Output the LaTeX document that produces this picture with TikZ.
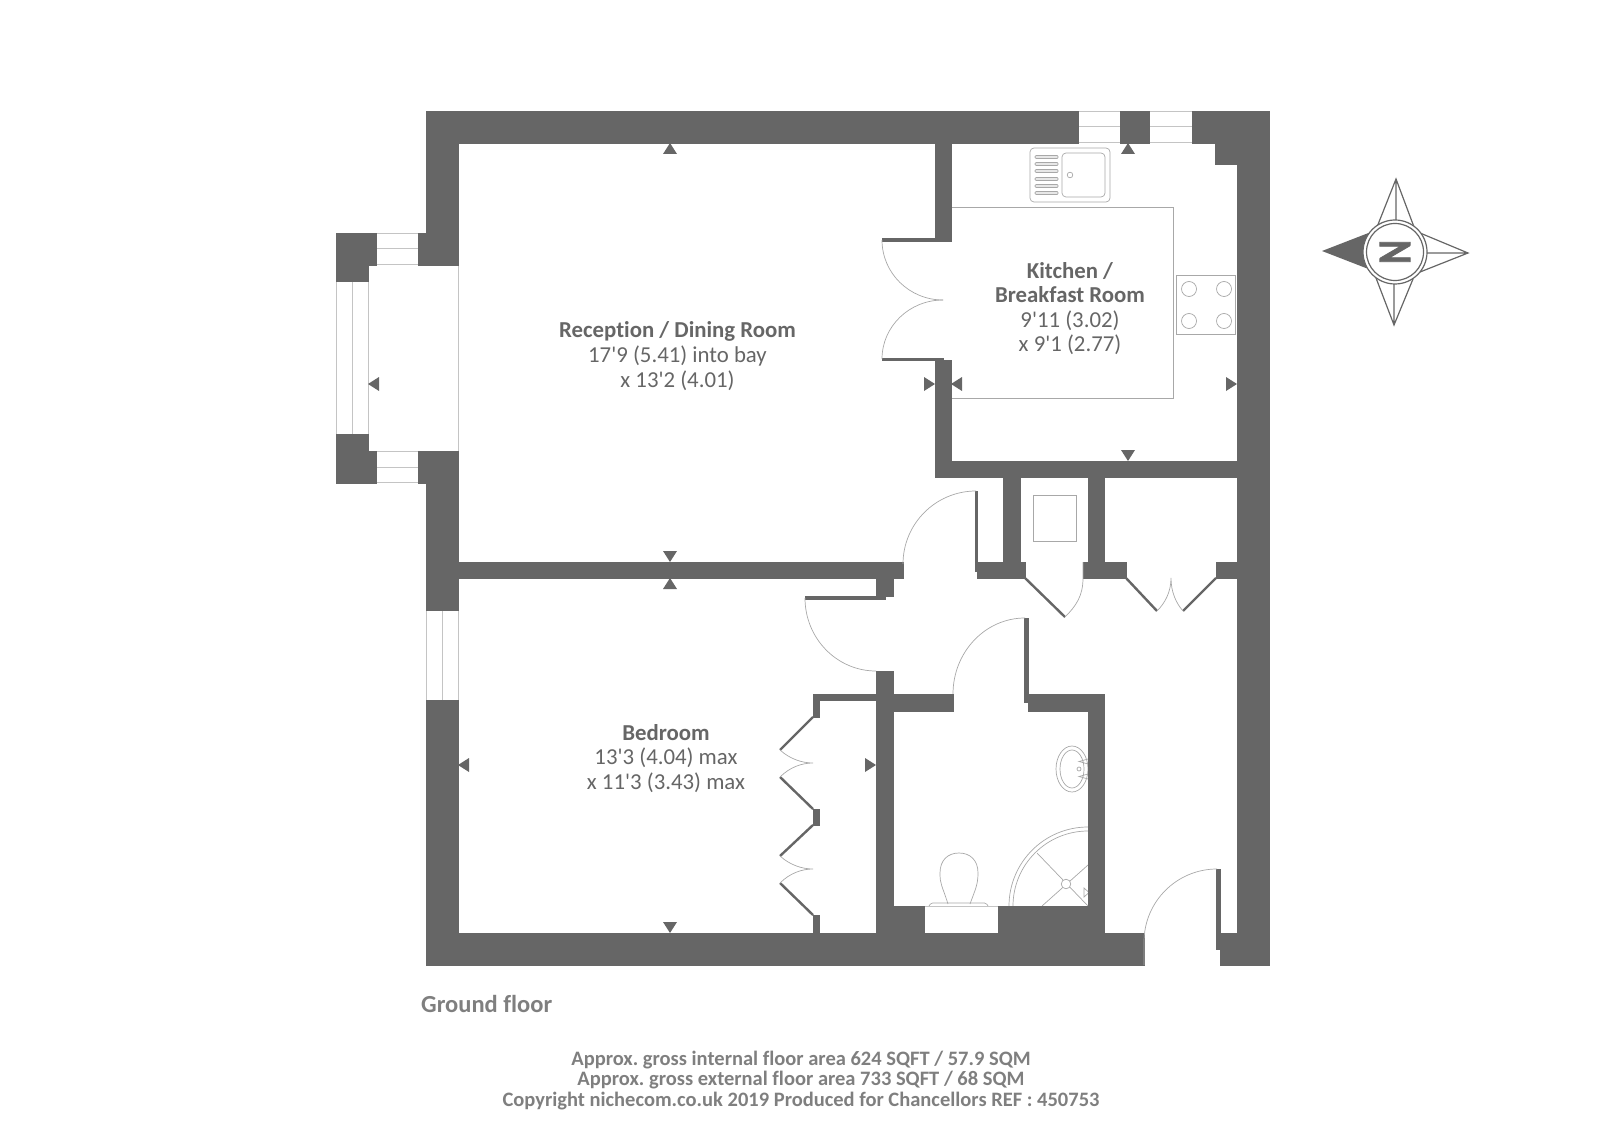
\documentclass[tikz,border=0pt]{standalone}
\usepackage{fontspec}
\setmainfont{Carlito}[Ligatures={TeXOff,NoCommon}]
\definecolor{wallgrey}{HTML}{666666}
\definecolor{linegrey}{HTML}{C4C4C4}
\definecolor{arcgrey}{HTML}{A8A8A8}
\definecolor{footgrey}{HTML}{7F7F7F}
\tikzset{
wall/.style={fill=wallgrey,draw=wallgrey,line width=0.1pt},
leaf/.style={draw=wallgrey,line width=2.4pt},
fitting/.style={draw=arcgrey,line width=0.7pt},
glass/.style={draw=linegrey,line width=1pt},
roomlabel/.style={text=wallgrey,align=center,font=\fontsize{22.8}{24.6}\selectfont},
footlabel/.style={text=footgrey,align=center,font=\fontsize{20.5}{20.6}\selectfont\bfseries\frenchspacing}}
% quarter arc: start, end, centre
\newcommand{\qarc}[6]{(#1,#2) .. controls ({#1+.5523*(#3-#5)},{#2+.5523*(#4-#6)}) and ({#3+.5523*(#1-#5)},{#4+.5523*(#2-#6)}) .. (#3,#4)}
\begin{document}
\begin{tikzpicture}[x=1pt,y=-1pt]
\useasboundingbox (0,0) rectangle (1600,1131);
% windows and openings
\draw[glass] (1078,111.5) rectangle (1120,143) (1078,127) -- (1120,127);
\draw[glass] (1149,111.5) rectangle (1192,143) (1149,127) -- (1192,127);
\draw[glass] (376,233.5) rectangle (418,265) (376,249) -- (418,249);
\draw[glass] (376,451) rectangle (418,482.5) (376,467) -- (418,467);
\draw[glass] (336.5,281) rectangle (368,434) (352,281) -- (352,434);
\draw[glass] (426.5,610) rectangle (458,700) (442,610) -- (442,700);
\draw[glass] (368,265) rectangle (458,451);
% kitchen fittings
\draw[fitting] (951,207) -- (1173,207) -- (1173,398) -- (951,398);
\draw[fitting,rounded corners=4pt] (1030,148) rectangle (1110,202);
\draw[fitting,rounded corners=4pt] (1062,153) rectangle (1105,197);
\draw[fitting] (1070,175) circle (2.8pt);
\foreach \y in {157,164,171,179,186,193}
  \draw[fitting,fill=linegrey!40,rounded corners=1pt] (1035,\y-1.5) rectangle (1058,\y+1.5);
\draw[fitting] (1176,275) rectangle (1235,334);
\foreach \x in {1189,1224} \foreach \y in {289,321}
  \draw[fitting] (\x,\y) circle (7.5pt);
\draw[fitting] (1033,495) rectangle (1076,541);
% bathroom fittings
\draw[fitting] (1072,769) ellipse (16pt and 23pt);
\draw[fitting] (1072,769) ellipse (12pt and 19pt);
\draw[fitting] (1079,769) circle (2pt);
\draw[fitting] (1088,759) -- (1079,761.5) -- (1088,764);
\draw[fitting] (1088,774) -- (1079,776.5) -- (1088,779);
\draw[fitting] \qarc{1009}{906}{1088}{827}{1088}{906};
\draw[fitting] \qarc{1013}{906}{1088}{831}{1088}{906};
\draw[fitting] (1037,853) -- (1088,906);
\draw[fitting] (1042,906) -- (1088,865);
\draw[fitting,fill=white] (1066,884) circle (4.8pt);
\draw[fitting] (1084,888) -- (1084,897) -- (1089,892.5) -- cycle;
\draw[fitting] (948,904) .. controls (942,885) and (940,885) .. (940,873) .. controls (940,860) and (948,853) .. (959,853) .. controls (970,853) and (978,860) .. (978,873) .. controls (978,885) and (975,890) .. (970,904);
\draw[fitting,rounded corners=1.5pt] (929,906) -- (931,903) -- (986,903) -- (988,906);
\draw[glass] (924,906) rectangle (998,933);
% walls
\foreach \xa/\ya/\xb/\yb in {426/111/1078/143,1120/111/1149/143,1192/111/1269/143,1215/143/1237/164,
  1237/111/1269/965,426/143/458/265,418/233/426/265,426/451/458/610,418/451/426/483,426/700/458/965,
  336/233/376/265,336/265/368/281,336/434/368/451,336/451/376/483,
  458/562/903/578,935/143/951/238,943/238/951/241,882/238.5/943/241,882/358/943/360.5,935/360/951/477,
  951/461/1237/477,1003/477/1020/562,1088/477/1104/562,977/562/1025/578,1083/562/1126/578,1216/562/1237/578,
  975/491/977/571,876/578/893/596,805/596.5/885/599,876/671/893/933,813/694/876/700,813/700/819/717,
  813/809/819/825,813/915/819/933,893/694/953/711,1028/694/1104/711,1088/711/1104/933,1024.5/618/1028/702,
  426/933/1144/965,876/906/924/933,998/906/1088/933,1216/869/1220/949,1220/933/1237/965}
  \fill[wall] (\xa,\ya) rectangle (\xb,\yb);
% door and wardrobe leaves
\draw[leaf] (1025,578) -- (1065,617);
\draw[leaf] (1126,578) -- (1157,611);
\draw[leaf] (1216,578) -- (1183,611);
\draw[leaf] (813,717) -- (780,750);
\draw[leaf] (780,777) -- (813,809);
\draw[leaf] (813,825) -- (780,856);
\draw[leaf] (780,883) -- (813,915);
% door swings
\draw[fitting] \qarc{882}{240}{943}{300}{943}{240};
\draw[fitting] \qarc{882}{359}{943}{300}{943}{359};
\draw[fitting] \qarc{976}{491}{903}{564}{976}{564};
\draw[fitting] \qarc{805}{598}{876}{671}{876}{598};
\draw[fitting] \qarc{1025}{618}{953}{694}{1025}{694};
\draw[fitting] \qarc{1217}{869}{1144}{942}{1217}{942} -- (1144,965);
\draw[fitting] (1065,617) .. controls (1076,606) and (1083,596) .. (1083,578) -- (1083,562);
\draw[fitting] (1157,611) .. controls (1165,603) and (1171,592) .. (1171,578) .. controls (1171,592) and (1176,603) .. (1183,611);
\draw[fitting] (780,750) .. controls (790,759) and (802,763) .. (813,763) .. controls (802,763) and (790,767) .. (780,777);
\draw[fitting] (780,856) .. controls (790,865) and (802,869) .. (813,869) .. controls (802,869) and (790,873) .. (780,883);
% dimension marks
\foreach \x/\y/\dx/\dy in {670/143/0/1,670/562/0/-1,670/578/0/1,670/933/0/-1,368/384/1/0,935/384/-1/0,
  951/384/1/0,1237/384/-1/0,1128/143/0/1,1128/461/0/-1,458/765/1/0,876/765/-1/0}
  \fill[wallgrey] (\x,\y) -- ({\x+11*\dx-7*\dy},{\y+11*\dy-7*\dx}) -- ({\x+11*\dx+7*\dy},{\y+11*\dy+7*\dx}) -- cycle;
% compass
\fill[wallgrey] (1322,251) -- (1371,232) -- (1371,270) -- cycle;
\draw[wallgrey,line width=1.2pt] (1377,227) -- (1396,179) -- (1414,227) (1396,179) -- (1396,222);
\draw[wallgrey,line width=1.2pt] (1420,233) -- (1468,253) -- (1420,272) (1468,253) -- (1426,253);
\draw[wallgrey,line width=1.2pt] (1376,278) -- (1394,325) -- (1413,279) (1394,325) -- (1394,284);
\draw[wallgrey,line width=1.2pt,fill=white] (1395,252) circle (32pt);
\draw[wallgrey,line width=1.2pt] (1395,252) circle (28.5pt);
\node[text=wallgrey,font=\fontsize{36}{36}\selectfont\bfseries\addfontfeatures{FakeBold=2},transform shape,rotate=90,yscale=1.3] (north) at (1395,252) {N};
% labels
\node[roomlabel] (reception) at (677.5,356) {\textbf{Reception / Dining Room}\\17'9 (5.41) into bay\\x 13'2 (4.01)};
\node[roomlabel] (kitchen) at (1070,308.5) {\textbf{Kitchen /}\\\textbf{Breakfast Room}\\9'11 (3.02)\\x 9'1 (2.77)};
\node[roomlabel] (bedroom) at (666,758.5) {\textbf{Bedroom}\\13'3 (4.04) max\\x 11'3 (3.43) max};
\node[text=footgrey,anchor=west,inner sep=0pt,font=\fontsize{24.5}{26}\selectfont\bfseries] (floor) at (421,1004) {Ground floor};
\node[footlabel] (areas) at (801,1080.5) {Approx. gross internal floor area 624 SQFT / 57.9 SQM\\Approx. gross external floor area 733 SQFT / 68 SQM\\Copyright nichecom.co.uk 2019 Produced for Chancellors REF : 450753};
\end{tikzpicture}
\end{document}
